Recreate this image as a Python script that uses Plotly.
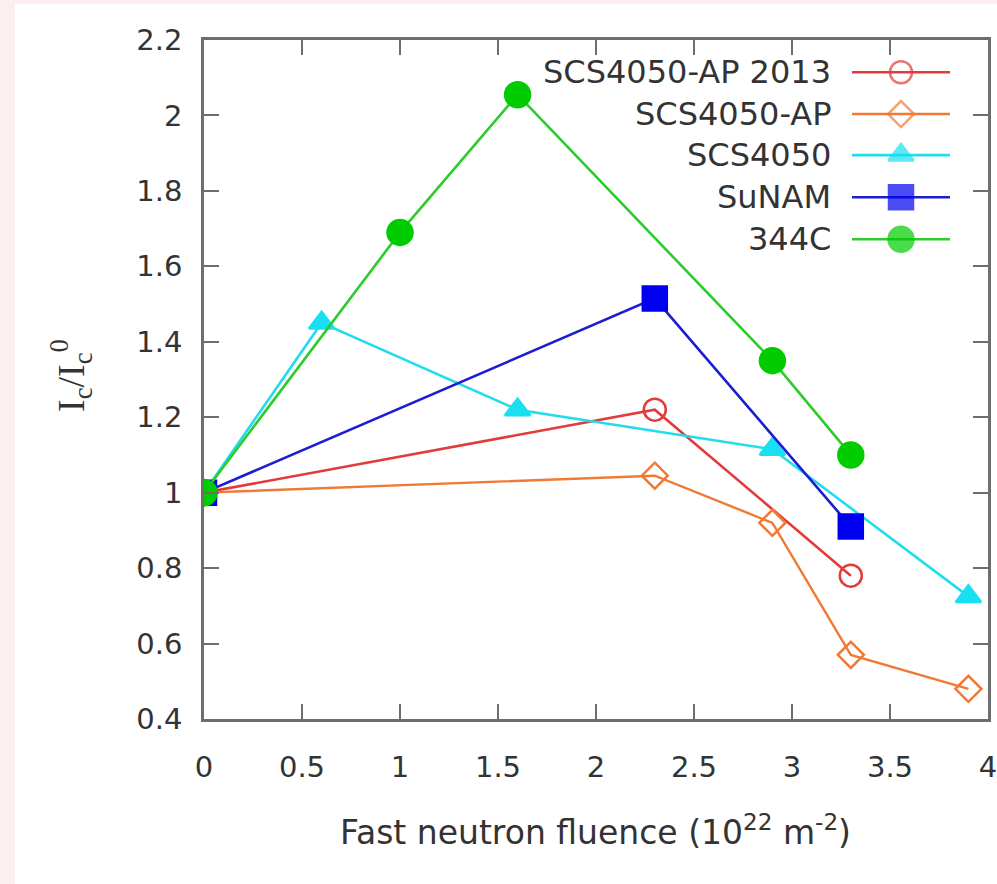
import plotly.graph_objects as go

# ---- data ----
names = ["SCS4050-AP 2013", "SCS4050-AP", "SCS4050", "SuNAM", "344C"]
x_ap2013 = [0, 2.3, 3.3]
y_ap2013 = [1.0, 1.22, 0.78]
x_ap = [0, 2.3, 2.9, 3.3, 3.9]
y_ap = [1.0, 1.045, 0.92, 0.57, 0.48]
x_scs = [0, 0.6, 1.6, 2.9, 3.9]
y_scs = [1.0, 1.45, 1.22, 1.115, 0.725]
x_sunam = [0, 2.3, 3.3]
y_sunam = [1.0, 1.515, 0.91]
x_344c = [0, 1.0, 1.6, 2.9, 3.3]
y_344c = [1.0, 1.69, 2.055, 1.35, 1.10]
x_ticks = [0, 0.5, 1, 1.5, 2, 2.5, 3, 3.5, 4]
x_ticklabels = ["0", "0.5", "1", "1.5", "2", "2.5", "3", "3.5", "4"]
y_ticks = [0.4, 0.6, 0.8, 1.0, 1.2, 1.4, 1.6, 1.8, 2.0, 2.2]
y_ticklabels = ["0.4", "0.6", "0.8", "1", "1.2", "1.4", "1.6", "1.8", "2", "2.2"]
reference_level = 1.0

# ---- styles ----
styles = [
    dict(color="#e23b3b", symbol="circle-open", size=22, lw=2.6),
    dict(color="#f07a35", symbol="diamond-open", size=20, lw=2.4),
    dict(color="#22dcee", symbol="triangle-up", size=22, lw=2.6),
    dict(color="#1c1cd0", symbol="square", size=24, lw=2.6),
    dict(color="#2ccc2c", symbol="circle", size=25, lw=2.6),
]
marker_colors = ["#e23b3b", "#f07a35", "#18e0f0", "#0000f0", "#00cc00"]
series = [(x_ap2013, y_ap2013), (x_ap, y_ap), (x_scs, y_scs), (x_sunam, y_sunam), (x_344c, y_344c)]

FONT = "DejaVu Sans"
TXT = "#333333"
AXC = "#6e6e6e"
PINK = "#fcefef"

fig = go.Figure()

fig.add_hline(y=reference_level, line=dict(color="#222222", width=2.5), layer="below")

for (xs, ys), nm, st, mc in zip(series, names, styles, marker_colors):
    fig.add_trace(go.Scatter(
        x=xs, y=ys, name=nm, mode="lines+markers",
        line=dict(color=st["color"], width=st["lw"]),
        marker=dict(symbol=st["symbol"], size=st["size"], color=mc,
                    line=dict(color=mc, width=2.5)),
        showlegend=False, xaxis="x", yaxis="y",
    ))

# ---- manual legend (symbol to the right of right-aligned text) ----
leg_rows = [0.9525, 0.891, 0.8305, 0.7685, 0.7065]
for nm, st, mc, yy in zip(names, styles, marker_colors, leg_rows):
    fig.add_trace(go.Scatter(
        x=[0.0, 0.5, 1.0], y=[yy, yy, yy], mode="lines+markers",
        line=dict(color=st["color"], width=st["lw"]),
        marker=dict(symbol=st["symbol"], size=[0, st["size"], 0], color=mc,
                    line=dict(color=mc, width=2.5)),
        showlegend=False, hoverinfo="skip", xaxis="x2", yaxis="y2",
    ))
    fig.add_annotation(text=nm, xref="paper", yref="paper",
                       x=(833 - 204) / 784, y=yy, xanchor="right", yanchor="middle",
                       showarrow=False, font=dict(family=FONT, size=32, color=TXT))

# white panel on pink page
fig.add_shape(type="rect", xref="paper", yref="paper",
              x0=(15 - 204) / 784, x1=1.05, y0=-0.3, y1=(719 - 4) / 679,
              fillcolor="white", line=dict(width=0), layer="below")

fig.update_layout(
    width=997, height=884,
    margin=dict(l=204, r=9, t=40, b=165, autoexpand=False),
    paper_bgcolor=PINK, plot_bgcolor="rgba(0,0,0,0)",
    showlegend=False,
    xaxis=dict(range=[0, 4], tickvals=x_ticks, ticktext=x_ticklabels, automargin=False,
               ticklabeloverflow="allow",
               showgrid=False, zeroline=False, showline=True, linecolor=AXC, linewidth=2.5,
               mirror="ticks", ticks="inside", ticklen=15, tickwidth=2, tickcolor=AXC,
               tickfont=dict(family=FONT, size=29, color=TXT), ticklabelstandoff=20),
    yaxis=dict(range=[0.4, 2.2], tickvals=y_ticks, ticktext=y_ticklabels, automargin=False,
               ticklabeloverflow="allow",
               showgrid=False, zeroline=False, showline=True, linecolor=AXC, linewidth=2.5,
               mirror="ticks", ticks="inside", ticklen=15, tickwidth=2, tickcolor=AXC,
               tickfont=dict(family=FONT, size=29, color=TXT), ticklabelstandoff=13),
    xaxis2=dict(domain=[(852 - 204) / 784, (950 - 204) / 784], range=[0, 1],
                visible=False, anchor="y2", automargin=False),
    yaxis2=dict(domain=[0, 1], range=[0, 1], visible=False, anchor="x2",
                overlaying="y", automargin=False),
)

fig.add_annotation(text="I<sub>c</sub>/I<sub>c</sub><sup>0</sup>", xref="paper", yref="paper",
                   x=(71 - 204) / 784, y=(719 - 376) / 679, textangle=-90,
                   xanchor="center", yanchor="middle", showarrow=False,
                   font=dict(family="Liberation Serif", size=38, color=TXT))
fig.add_annotation(text="Fast neutron fluence (10<sup>22</sup> m<sup>-2</sup>)",
                   xref="paper", yref="paper",
                   x=(595 - 204) / 784, y=(719 - 830) / 679,
                   xanchor="center", yanchor="middle", showarrow=False,
                   font=dict(family=FONT, size=33, color=TXT))

fig.write_html(
    "out.html",
    config={"displayModeBar": False},
    post_script="document.body.style.margin='0';document.body.style.padding='0';"
                "document.body.style.background='" + PINK + "';"
                "document.documentElement.style.overflow='hidden';",
)
